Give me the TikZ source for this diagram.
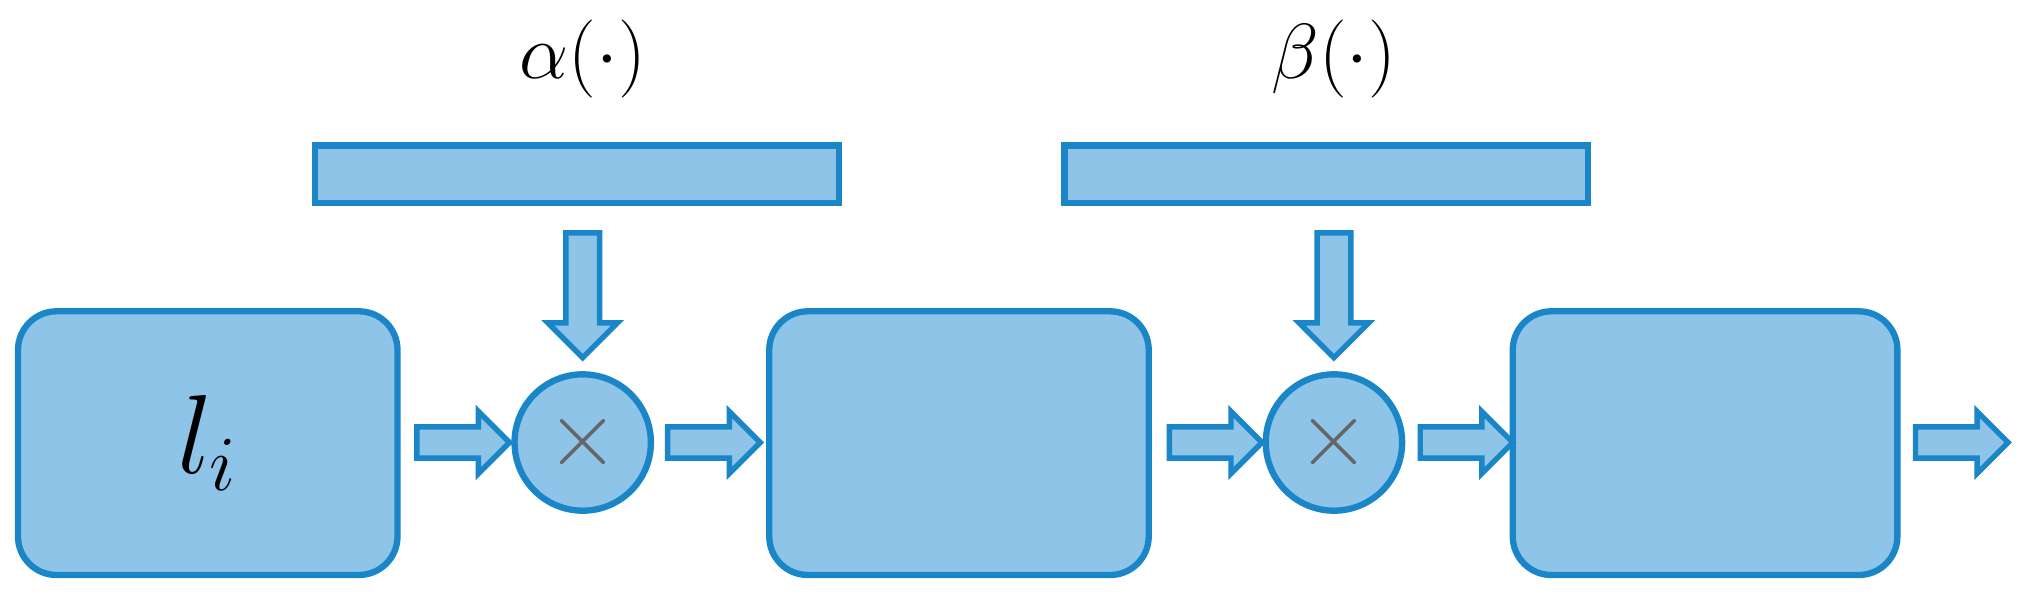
\documentclass[tikz,border=0pt]{standalone}
\usepackage{amsmath}
\usetikzlibrary{positioning,shapes.arrows}
\definecolor{blockfill}{HTML}{8DC4E8}
\definecolor{blockline}{HTML}{1A86C8}
\begin{document}
\begin{tikzpicture}[
  block/.style={draw=blockline, fill=blockfill, line width=1.4pt, rounded corners=0.3cm, minimum width=2.95cm, minimum height=2.05cm},
  bar/.style={draw=blockline, fill=blockfill, line width=1.4pt, minimum width=4.07cm, minimum height=0.45cm},
  mult/.style={circle, draw=blockline, fill=blockfill, line width=1.4pt, minimum size=1.06cm, inner sep=0pt, text=gray!80!black, font=\fontsize{22}{24}\selectfont},
  label/.style={font=\fontsize{19}{22}\selectfont},
  harrow/.style={single arrow, draw=blockline, fill=blockfill, line width=1.2pt, minimum height=0.72cm, inner sep=0.1cm, single arrow head extend=0.12cm, single arrow head indent=0pt},
  varrow/.style={harrow, shape border rotate=270, minimum height=0.97cm, inner sep=0.11cm, single arrow head extend=0.14cm}
]
\useasboundingbox (0,1.34) rectangle (15.68,6.01);
\node[block] (l1) at (1.615,2.565) {\fontsize{24}{26}\selectfont\(l_i\)};
\node[block] (l2) at (7.455,2.565) {};
\node[block, minimum width=2.99cm] (l3) at (13.255,2.565) {};
\node[mult] (m1) at (4.53,2.57) {\(\times\)};
\node[mult] (m2) at (10.37,2.57) {\(\times\)};
\node[bar] (f1) at (4.485,4.655) {};
\node[bar] (f2) at (10.31,4.655) {};
\node[label] (t1) at (4.53,5.55) {\(\alpha(\cdot)\)};
\node[label] (t2) at (10.37,5.55) {\(\beta(\cdot)\)};
%arrows
\node[varrow] (d1) at (4.53,3.78) {};
\node[varrow] (d2) at (10.37,3.78) {};
\node[harrow] (h1) at (3.54,2.57) {};
\node[harrow] (h2) at (5.49,2.57) {};
\node[harrow] (h3) at (9.39,2.57) {};
\node[harrow] (h4) at (11.34,2.57) {};
\node[harrow] (h5) at (15.19,2.57) {};
\end{tikzpicture}
\end{document}
